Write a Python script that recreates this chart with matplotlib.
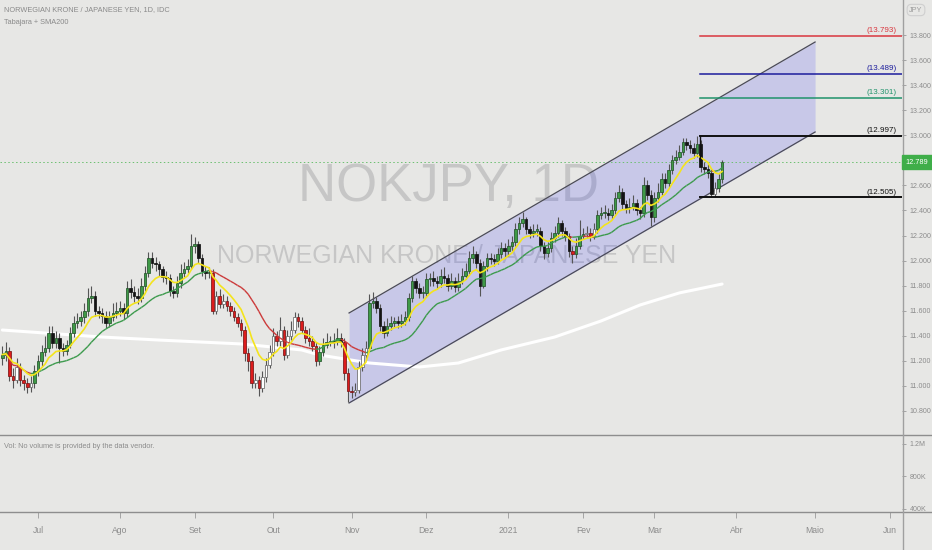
import numpy as np
import pandas as pd
import matplotlib
matplotlib.use('Agg')
import matplotlib.pyplot as plt
from matplotlib.lines import Line2D
from matplotlib.collections import LineCollection

# ---------------- data ----------------
start_date = '2020-06-17'   # first daily bar shown
opens = [
    11.22, 11.25, 11.28, 11.08, 11.05, 11.15, 11.05, 11.02, 10.99, 11.02,
    11.12, 11.20, 11.27, 11.30, 11.42, 11.34, 11.38, 11.30, 11.28, 11.33,
    11.42, 11.50, 11.52, 11.55, 11.60, 11.70, 11.72, 11.60, 11.58, 11.56,
    11.50, 11.55, 11.58, 11.60, 11.62, 11.58, 11.78, 11.75, 11.72, 11.70,
    11.80, 11.90, 12.02, 11.98, 11.97, 11.93, 11.87, 11.86, 11.76, 11.74,
    11.82, 11.90, 11.93, 11.96, 12.12, 12.13, 12.02, 11.92, 11.90, 11.90,
    11.60, 11.72, 11.65, 11.68, 11.64, 11.60, 11.55, 11.50, 11.45, 11.26,
    11.20, 11.02, 11.05, 10.98, 11.07, 11.17, 11.27, 11.40, 11.36, 11.45,
    11.25, 11.40, 11.45, 11.55, 11.52, 11.45, 11.38, 11.36, 11.32, 11.20,
    11.27, 11.33, 11.35, 11.36, 11.35, 11.38, 11.35, 11.10, 10.96, 10.95,
    10.97, 11.15, 11.25, 11.30, 11.66, 11.68, 11.62, 11.48, 11.42, 11.48,
    11.50, 11.52, 11.50, 11.52, 11.55, 11.70, 11.84, 11.78, 11.74, 11.74,
    11.85, 11.86, 11.84, 11.82, 11.88, 11.86, 11.80, 11.84, 11.79, 11.84,
    11.88, 11.92, 12.02, 12.05, 11.98, 11.80, 11.96, 12.02, 12.01, 12.00,
    12.05, 12.10, 12.08, 12.12, 12.15, 12.25, 12.30, 12.33, 12.25, 12.22,
    12.24, 12.24, 12.12, 12.06, 12.10, 12.18, 12.22, 12.30, 12.24, 12.20,
    12.08, 12.05, 12.12, 12.20, 12.21, 12.22, 12.20, 12.25, 12.36, 12.38,
    12.38, 12.36, 12.40, 12.50, 12.55, 12.45, 12.42, 12.43, 12.46, 12.40,
    12.38, 12.60, 12.52, 12.35, 12.50, 12.55, 12.65, 12.62, 12.72, 12.80,
    12.83, 12.87, 12.95, 12.92, 12.90, 12.86, 12.93, 12.75, 12.73, 12.70,
    12.53, 12.58, 12.65,
]
closes = [
    11.25, 11.28, 11.08, 11.05, 11.15, 11.05, 11.02, 10.99, 11.02, 11.12,
    11.20, 11.27, 11.30, 11.42, 11.34, 11.38, 11.30, 11.28, 11.33, 11.42,
    11.50, 11.52, 11.55, 11.60, 11.70, 11.72, 11.60, 11.58, 11.56, 11.50,
    11.55, 11.58, 11.60, 11.62, 11.58, 11.78, 11.75, 11.72, 11.70, 11.80,
    11.90, 12.02, 11.98, 11.97, 11.93, 11.87, 11.86, 11.76, 11.74, 11.82,
    11.90, 11.93, 11.96, 12.12, 12.13, 12.02, 11.92, 11.90, 11.90, 11.60,
    11.72, 11.65, 11.68, 11.64, 11.60, 11.55, 11.50, 11.45, 11.26, 11.20,
    11.02, 11.05, 10.98, 11.07, 11.17, 11.27, 11.40, 11.36, 11.45, 11.25,
    11.40, 11.45, 11.55, 11.52, 11.45, 11.38, 11.36, 11.32, 11.20, 11.27,
    11.33, 11.35, 11.36, 11.35, 11.38, 11.35, 11.10, 10.96, 10.95, 10.97,
    11.15, 11.25, 11.30, 11.66, 11.68, 11.62, 11.48, 11.42, 11.48, 11.50,
    11.52, 11.50, 11.52, 11.55, 11.70, 11.84, 11.78, 11.74, 11.74, 11.85,
    11.86, 11.84, 11.82, 11.88, 11.86, 11.80, 11.84, 11.79, 11.84, 11.88,
    11.92, 12.02, 12.05, 11.98, 11.80, 11.96, 12.02, 12.01, 12.00, 12.05,
    12.10, 12.08, 12.12, 12.15, 12.25, 12.30, 12.33, 12.25, 12.22, 12.24,
    12.24, 12.12, 12.06, 12.10, 12.18, 12.22, 12.30, 12.24, 12.20, 12.08,
    12.05, 12.12, 12.20, 12.21, 12.22, 12.20, 12.25, 12.36, 12.38, 12.38,
    12.36, 12.40, 12.50, 12.55, 12.45, 12.42, 12.43, 12.46, 12.40, 12.38,
    12.60, 12.52, 12.35, 12.50, 12.55, 12.65, 12.62, 12.72, 12.80, 12.83,
    12.87, 12.95, 12.92, 12.90, 12.86, 12.93, 12.75, 12.73, 12.70, 12.53,
    12.58, 12.65, 12.789,
]
highs = [
    11.32, 11.35, 11.31, 11.14, 11.22, 11.18, 11.09, 11.06, 11.08, 11.17,
    11.25, 11.33, 11.40, 11.48, 11.48, 11.44, 11.42, 11.34, 11.37, 11.47,
    11.56, 11.58, 11.60, 11.66, 11.78, 11.80, 11.76, 11.64, 11.62, 11.60,
    11.60, 11.66, 11.67, 11.68, 11.66, 11.84, 11.85, 11.80, 11.78, 11.86,
    11.96, 12.07, 12.07, 12.03, 12.00, 11.96, 11.92, 11.89, 11.80, 11.88,
    11.97, 11.99, 12.01, 12.21, 12.19, 12.16, 12.05, 11.96, 11.95, 11.93,
    11.76, 11.77, 11.73, 11.72, 11.67, 11.63, 11.58, 11.53, 11.48, 11.30,
    11.24, 11.10, 11.08, 11.12, 11.22, 11.33, 11.46, 11.44, 11.55, 11.48,
    11.45, 11.52, 11.59, 11.58, 11.55, 11.48, 11.46, 11.40, 11.35, 11.32,
    11.38, 11.42, 11.40, 11.42, 11.46, 11.42, 11.38, 11.14, 11.00, 11.02,
    11.20, 11.30, 11.36, 11.73, 11.75, 11.71, 11.65, 11.52, 11.54, 11.56,
    11.55, 11.56, 11.57, 11.60, 11.74, 11.88, 11.86, 11.82, 11.80, 11.90,
    11.90, 11.92, 11.88, 11.93, 11.95, 11.89, 11.90, 11.87, 11.90, 11.94,
    11.98, 12.08, 12.12, 12.08, 12.01, 12.00, 12.06, 12.06, 12.05, 12.10,
    12.15, 12.14, 12.17, 12.20, 12.30, 12.35, 12.39, 12.35, 12.28, 12.29,
    12.29, 12.27, 12.15, 12.15, 12.23, 12.28, 12.35, 12.32, 12.27, 12.22,
    12.12, 12.18, 12.32, 12.26, 12.28, 12.26, 12.30, 12.40, 12.43, 12.44,
    12.42, 12.45, 12.55, 12.60, 12.58, 12.48, 12.50, 12.52, 12.49, 12.43,
    12.67, 12.64, 12.56, 12.55, 12.62, 12.70, 12.70, 12.77, 12.84, 12.88,
    12.92, 12.98, 12.98, 12.96, 12.94, 12.997, 12.96, 12.79, 12.77, 12.73,
    12.63, 12.69, 12.80,
]
lows = [
    11.17, 11.20, 11.04, 10.98, 11.02, 11.00, 10.97, 10.94, 10.95, 10.98,
    11.08, 11.16, 11.24, 11.27, 11.30, 11.30, 11.18, 11.24, 11.25, 11.30,
    11.39, 11.46, 11.48, 11.50, 11.56, 11.66, 11.56, 11.54, 11.50, 11.46,
    11.47, 11.52, 11.54, 11.56, 11.53, 11.55, 11.70, 11.67, 11.65, 11.67,
    11.76, 11.87, 11.94, 11.92, 11.88, 11.83, 11.81, 11.72, 11.70, 11.71,
    11.78, 11.87, 11.90, 11.93, 12.06, 11.98, 11.88, 11.85, 11.86, 11.57,
    11.57, 11.62, 11.62, 11.60, 11.56, 11.52, 11.47, 11.40, 11.20, 11.12,
    10.98, 10.98, 10.92, 10.95, 11.03, 11.14, 11.24, 11.32, 11.32, 11.21,
    11.22, 11.37, 11.42, 11.47, 11.42, 11.34, 11.32, 11.28, 11.16, 11.17,
    11.24, 11.30, 11.32, 11.30, 11.33, 11.31, 11.05, 10.87, 10.90, 10.92,
    10.94, 11.12, 11.21, 11.28, 11.62, 11.58, 11.44, 11.38, 11.40, 11.45,
    11.47, 11.46, 11.47, 11.49, 11.52, 11.67, 11.74, 11.70, 11.70, 11.71,
    11.80, 11.80, 11.77, 11.79, 11.82, 11.76, 11.77, 11.75, 11.76, 11.81,
    11.85, 11.89, 11.98, 11.94, 11.72, 11.78, 11.92, 11.97, 11.96, 11.97,
    12.02, 12.03, 12.04, 12.08, 12.12, 12.21, 12.27, 12.21, 12.18, 12.19,
    12.20, 12.08, 12.01, 12.03, 12.07, 12.15, 12.19, 12.20, 12.16, 12.03,
    11.98, 12.02, 12.09, 12.17, 12.18, 12.16, 12.17, 12.22, 12.33, 12.34,
    12.32, 12.33, 12.37, 12.47, 12.41, 12.38, 12.38, 12.40, 12.36, 12.33,
    12.35, 12.48, 12.28, 12.31, 12.47, 12.52, 12.58, 12.59, 12.69, 12.77,
    12.80, 12.84, 12.88, 12.86, 12.82, 12.83, 12.71, 12.69, 12.66, 12.51,
    12.505, 12.55, 12.62,
]

# SMA200 at a few bar positions (bar index from start_date)
sma200_pos = [0, 28, 44, 67, 84, 89, 103, 117, 128, 140, 155, 168, 179, 190, 202]
sma200_val = [11.446, 11.39, 11.366, 11.335, 11.287, 11.247, 11.183, 11.151,
              11.183, 11.287, 11.39, 11.518, 11.646, 11.742, 11.813]

# parallel channel (bar index, price)
channel_x = [97.3, 228.1]
channel_upper = [11.582, 13.744]
channel_lower = [10.864, 13.026]

# Fibonacci extension levels
fib_levels = [13.793, 13.489, 13.301, 12.997, 12.505]
fib_labels = ['(13.793)', '(13.489)', '(13.301)', '(12.997)', '(12.505)']
fib_colors = ['#d9363e', '#1c1c9c', '#20936b', '#111111', '#111111']
fib_start = 195.8

last_price = 12.789
price_ticks = [10.8, 11.0, 11.2, 11.4, 11.6, 11.8, 12.0, 12.2, 12.4, 12.6, 13.0, 13.2, 13.4, 13.6, 13.8]
month_starts = ['2020-07-01', '2020-08-01', '2020-09-01', '2020-10-01', '2020-11-01', '2020-12-01',
                '2021-01-01', '2021-02-01', '2021-03-01', '2021-04-01', '2021-05-01', '2021-06-01']
month_labels = ['Jul', 'Ago', 'Set', 'Out', 'Nov', 'Dez', '2021', 'Fev', 'Mar', 'Abr', 'Maio', 'Jun']
vol_ticks = [400e3, 800e3, 1.2e6]
vol_labels = ['400K', '800K', '1.2M']

# ---------------- style ----------------
plt.rcParams['font.family'] = ['Liberation Sans', 'DejaVu Sans']
BG = '#e7e7e5'
TXT = '#8c8c8c'
AXC = '#9a9a9a'

W, H = 932, 550
fig = plt.figure(figsize=(W / 100, H / 100), dpi=100)
fig.patch.set_facecolor(BG)

def fx(px):
    return px / W

def fy(py):
    return 1 - py / H

ax = fig.add_axes([0, fy(434), fx(902), 434 / H])
vax = fig.add_axes([0, fy(512), fx(902), (512 - 435) / H])
for a in (ax, vax):
    a.set_facecolor(BG)
    for s in a.spines.values():
        s.set_visible(False)

o = np.array(opens); c = np.array(closes); h = np.array(highs); l = np.array(lows)
n = len(c)
pos = np.arange(n)

# x scale: bar index; pixel x = 38 + 3.563*(idx-10)
xl = (10 - 38 / 3.563, 10 + (902 - 38) / 3.563)
ax.set_xlim(*xl)
vax.set_xlim(*xl)
ax.set_ylim(13.8 - (434 - 35) / 125.33, 13.8 + 35 / 125.33)

# watermark (behind everything)
ax.text(448 / 902, 1 - 187 / 434, 'NOKJPY, 1D', transform=ax.transAxes, fontsize=38, color='#c6c6c6',
        ha='center', va='center', zorder=0.5)
ax.text(447 / 902, 1 - 256 / 434, 'NORWEGIAN KRONE / JAPANESE YEN', transform=ax.transAxes, fontsize=18,
        color='#c6c6c6', ha='center', va='center', zorder=0.5)

# channel (semi-transparent so the watermark shows through)
cx = np.array(channel_x)
ax.fill_between(cx, channel_lower, channel_upper, color=(0.0, 0.02, 1.0), alpha=0.134, zorder=1, lw=0)
ax.plot(cx, channel_upper, color='#4a4a58', lw=0.9, zorder=2.5)
ax.plot(cx, channel_lower, color='#4a4a58', lw=0.9, zorder=2.5)

# SMA200
ax.plot(sma200_pos, sma200_val, color='white', lw=2.2, zorder=2, solid_capstyle='round')

# moving averages
cs = pd.Series(c)
sma20 = cs.rolling(20, min_periods=1).mean().values
ema = cs.ewm(span=9, adjust=False).mean().values
slope = np.diff(sma20, prepend=sma20[0])
rising = slope >= 0
rising[0] = True

# candles (Tabajara colouring)
up = c >= o
cols, edges = [], []
for i in range(n):
    if up[i] and rising[i]:
        cols.append('#3f9a47'); edges.append('#24552a')
    elif (not up[i]) and rising[i]:
        cols.append('#141414'); edges.append('#141414')
    elif (not up[i]) and not rising[i]:
        cols.append('#dd1c1c'); edges.append('#7a1515')
    else:
        cols.append('#ffffff'); edges.append('#6a6a6a')
ax.vlines(pos, l, h, color='#555555', lw=0.8, zorder=3)
body_b = np.minimum(o, c)
body_h = np.maximum(np.abs(c - o), 0.01)
ax.bar(pos, body_h, bottom=body_b, width=0.72, color=cols, edgecolor=edges, lw=0.55, zorder=3.5)

# SMA20 coloured by slope
pts = np.column_stack([pos, sma20])
segs = np.stack([pts[:-1], pts[1:]], axis=1)
segcol = ['#3c9a4c' if r else '#cc3a3a' for r in rising[1:]]
ax.add_collection(LineCollection(segs, colors=segcol, linewidths=1.0, zorder=4))
ax.plot(pos, ema, color='#f4e41c', lw=1.2, zorder=4.2)

# fib levels
xr = xl[1]
for lv, lb, col in zip(fib_levels, fib_labels, fib_colors):
    ax.plot([fib_start, xr], [lv, lv], color=col, lw=1.4 if col == '#111111' else 1.1, zorder=5)
    ax.text(xr - 1.5, lv + 0.012, lb, color=col, fontsize=5.8, ha='right', va='bottom', zorder=6)
ax.plot([fib_start, fib_start], [fib_levels[3], fib_levels[3] - 0.2], color='#111111', lw=1.0, zorder=5)

# last price line
ax.axhline(last_price, color='#6cc070', lw=0.7, ls=(0, (1.5, 2.5)), zorder=2)

# price axis
ax.yaxis.tick_right()
ax.set_yticks(price_ticks)
ax.set_yticklabels(['%.3f' % t for t in price_ticks])
ax.tick_params(axis='y', colors=AXC, labelcolor=TXT, labelsize=5.1, length=3, width=0.6, pad=2.5)
ax.set_xticks([])

# volume axis
vax.set_ylim(358e3, 1305e3)
vax.yaxis.tick_right()
vax.set_yticks(vol_ticks)
vax.set_yticklabels(vol_labels)
vax.tick_params(axis='y', colors=AXC, labelcolor=TXT, labelsize=5.1, length=3, width=0.6, pad=2.5)
bdays = pd.bdate_range(start_date, '2021-06-30')
mpos = [int(bdays.searchsorted(pd.Timestamp(m))) for m in month_starts]
vax.set_xticks(mpos)
vax.set_xticklabels(month_labels)
vax.tick_params(axis='x', colors=AXC, labelcolor=TXT, labelsize=6.2, length=4, width=0.6, pad=6)
vax.text(0.004, 0.85, 'Vol: No volume is provided by the data vendor.', transform=vax.transAxes,
         fontsize=5.3, color=TXT, ha='left', va='center')

# separators
for yy in (435, 512):
    fig.add_artist(Line2D([0, 1], [fy(yy), fy(yy)], color='#8e8e8e', lw=1.0))
fig.add_artist(Line2D([fx(902.5), fx(902.5)], [0, 1], color='#a0a0a0', lw=1.0))

# legend texts top-left
fig.text(fx(4), fy(10), 'NORWEGIAN KRONE / JAPANESE YEN, 1D, IDC', fontsize=5.3, color='#8a8a8a',
         ha='left', va='center')
fig.text(fx(4), fy(23), 'Tabajara + SMA200', fontsize=5.3, color='#8a8a8a', ha='left', va='center')

# last price tag and currency tag
fig.text(fx(917), fy(162), '12.789', fontsize=5.3, color='white', ha='center', va='center',
         bbox=dict(boxstyle='square,pad=0.45', fc='#3fae49', ec='#3fae49'))
fig.text(fx(916), fy(10), 'JPY', fontsize=5.2, color='#9a9a9a', ha='center', va='center',
         bbox=dict(boxstyle='round,pad=0.3,rounding_size=0.6', fc=BG, ec='#cfcfcf', lw=0.8))

fig.savefig('out.png', dpi=100, facecolor=BG)
